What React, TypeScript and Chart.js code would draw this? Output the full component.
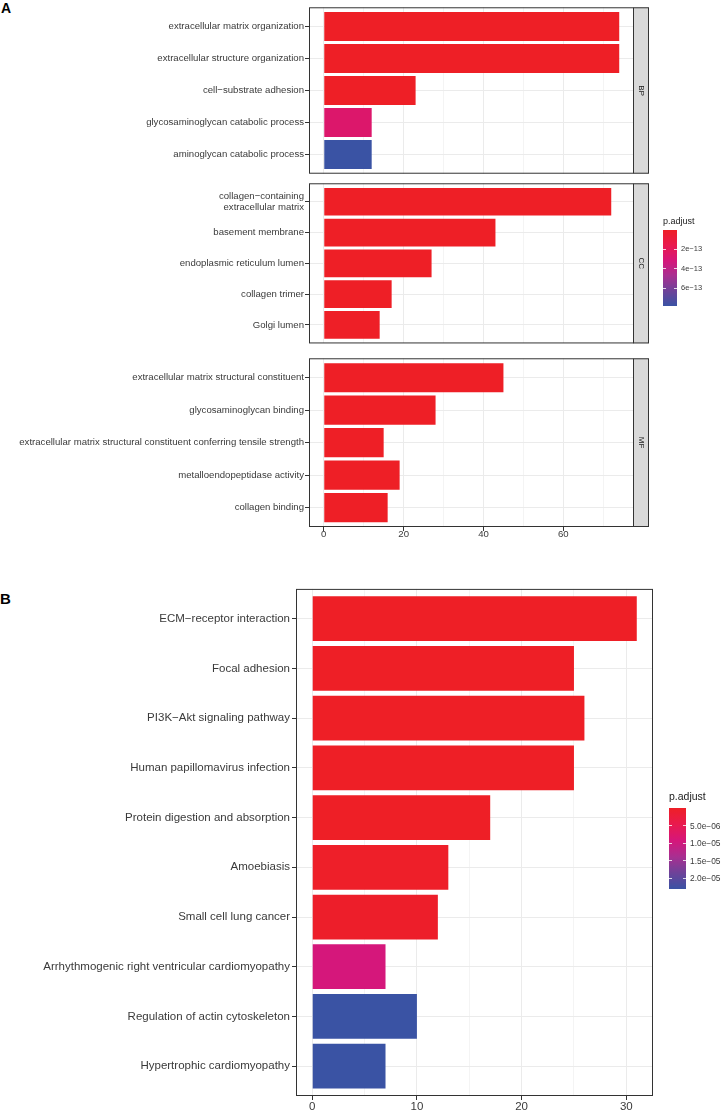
import React, { useEffect, useRef } from "react";
import { Chart, registerables } from "chart.js";

Chart.register(...registerables);

const FONT = '"Liberation Sans", Arial, Helvetica, sans-serif';

// ---------- Panel A (GO enrichment) ----------
const BP_TERMS: (string | string[])[] = [
  "extracellular matrix organization",
  "extracellular structure organization",
  "cell\u2212substrate adhesion",
  "glycosaminoglycan catabolic process",
  "aminoglycan catabolic process",
];
const BP_COUNTS = [74, 74, 23, 12, 12];
const BP_PADJ = [2.1e-31, 4.5e-31, 3.6e-17, 2.6e-13, 7.8e-13];

const CC_TERMS: (string | string[])[] = [
  ["collagen\u2212containing", "extracellular matrix"],
  "basement membrane",
  "endoplasmic reticulum lumen",
  "collagen trimer",
  "Golgi lumen",
];
const CC_COUNTS = [72, 43, 27, 17, 14];
const CC_PADJ = [1.5e-52, 3.2e-28, 4.1e-16, 6.0e-16, 2.2e-15];

const MF_TERMS: (string | string[])[] = [
  "extracellular matrix structural constituent",
  "glycosaminoglycan binding",
  "extracellular matrix structural constituent conferring tensile strength",
  "metalloendopeptidase activity",
  "collagen binding",
];
const MF_COUNTS = [45, 28, 15, 19, 16];
const MF_PADJ = [3.0e-40, 1.0e-18, 2.0e-17, 5.0e-16, 8.0e-16];

const A_MAJOR = [0, 20, 40, 60];
const A_MINOR = [10, 30, 50, 70];
const A_LEGEND_BREAKS = [2e-13, 4e-13, 6e-13];
const A_LEGEND_LABELS = ["2e\u221213", "4e\u221213", "6e\u221213"];

// ---------- Panel B (KEGG) ----------
const KEGG_TERMS: string[] = [
  "ECM\u2212receptor interaction",
  "Focal adhesion",
  "PI3K\u2212Akt signaling pathway",
  "Human papillomavirus infection",
  "Protein digestion and absorption",
  "Amoebiasis",
  "Small cell lung cancer",
  "Arrhythmogenic right ventricular cardiomyopathy",
  "Regulation of actin cytoskeleton",
  "Hypertrophic cardiomyopathy",
];
const KEGG_COUNTS = [31, 25, 26, 25, 17, 13, 12, 7, 10, 7];
const KEGG_PADJ = [3e-20, 1e-12, 4e-10, 2e-10, 1e-9, 3e-7, 5e-7, 9.3e-6, 2.3e-5, 2.3e-5];

const B_MAJOR = [0, 10, 20, 30];
const B_MINOR = [5, 15, 25];
const B_LEGEND_BREAKS = [5e-6, 1e-5, 1.5e-5, 2e-5];
const B_LEGEND_LABELS = ["5.0e\u221206", "1.0e\u221205", "1.5e\u221205", "2.0e\u221205"];

// red (low p.adjust) -> blue (high p.adjust)
const COLOR_STOPS: [number, string][] = [
  [0, "#EE1F26"],
  [0.2, "#E91A4E"],
  [0.4, "#D6167A"],
  [0.6, "#A92F91"],
  [0.8, "#6E4299"],
  [1, "#3A53A4"],
];

function hexToRgb(h: string): number[] {
  const v = parseInt(h.slice(1), 16);
  return [(v >> 16) & 255, (v >> 8) & 255, v & 255];
}

function colorFor(f: number): string {
  const t = Math.max(0, Math.min(1, f));
  for (let i = 1; i < COLOR_STOPS.length; i++) {
    const [f1, c1] = COLOR_STOPS[i];
    const [f0, c0] = COLOR_STOPS[i - 1];
    if (t <= f1) {
      const u = (t - f0) / (f1 - f0);
      const a = hexToRgb(c0);
      const b = hexToRgb(c1);
      const m = a.map((x, k) => Math.round(x + (b[k] - x) * u));
      return `rgb(${m[0]},${m[1]},${m[2]})`;
    }
  }
  return COLOR_STOPS[COLOR_STOPS.length - 1][1];
}

type PanelProps = {
  terms: (string | string[])[];
  counts: number[];
  padj: number[];
  pmax: number;
  xMin: number;
  xMax: number;
  major: number[];
  minor: number[];
  showX: boolean;
  strip?: string;
  left: number;
  right: number;
  top: number;
  bottom: number;
  fontSize: number;
  yLineHeight: number;
  yPad: number;
  xPad: number;
  xAxisH: number;
};

function Panel(p: PanelProps) {
  const ref = useRef<HTMLCanvasElement>(null);
  const padTop = 4;
  const padBottom = p.showX ? 0 : 4;
  const xH = p.showX ? p.xAxisH : 0;
  const canvasTop = p.top - padTop;
  const canvasH = padTop + (p.bottom - p.top) + xH + padBottom;

  useEffect(() => {
    const n = p.terms.length;
    const allTicks = [...p.major, ...p.minor].sort((a, b) => a - b);
    const isMajor = (v: number) => p.major.includes(v);
    const strip = p.strip;

    const framePlugin = {
      id: "frame",
      afterDatasetsDraw(chart: any) {
        const { ctx, chartArea: a } = chart;
        ctx.save();
        ctx.strokeStyle = "#333333";
        ctx.lineWidth = 1;
        ctx.strokeRect(a.left + 0.5, a.top + 0.5, a.right - a.left - 1, a.bottom - a.top - 1);
        if (strip) {
          const sx = a.right - 1;
          const sw = 16;
          ctx.fillStyle = "#D9D9D9";
          ctx.fillRect(sx, a.top, sw, a.bottom - a.top);
          ctx.strokeRect(sx + 0.5, a.top + 0.5, sw - 1, a.bottom - a.top - 1);
          ctx.translate(sx + sw / 2, (a.top + a.bottom) / 2);
          ctx.rotate(Math.PI / 2);
          ctx.fillStyle = "#1A1A1A";
          ctx.font = `8px ${FONT}`;
          ctx.textAlign = "center";
          ctx.textBaseline = "middle";
          ctx.fillText(strip, 0, 0);
        }
        ctx.restore();
      },
    };

    const chart = new Chart(ref.current as HTMLCanvasElement, {
      type: "bar",
      data: {
        datasets: [
          {
            data: p.counts.map((c, i) => ({ x: c, y: i + 1 })) as any,
            backgroundColor: p.padj.map((v) => colorFor(v / p.pmax)),
            borderWidth: 0,
            barPercentage: 0.9,
            categoryPercentage: 1,
          },
        ],
      },
      options: {
        indexAxis: "y",
        animation: false,
        responsive: false,
        devicePixelRatio: 1,
        layout: { padding: { top: padTop, bottom: padBottom, left: 0, right: 724 - p.right } },
        plugins: { legend: { display: false }, tooltip: { enabled: false } },
        scales: {
          x: {
            type: "linear",
            position: "bottom",
            min: p.xMin,
            max: p.xMax,
            offset: false,
            afterBuildTicks: (s: any) => {
              s.ticks = allTicks.map((v) => ({ value: v }));
            },
            afterFit: (s: any) => {
              s.height = xH;
            },
            border: { display: false },
            grid: {
              offset: false,
              color: (ctx: any) => (ctx.tick && isMajor(ctx.tick.value) ? "#EBEBEB" : "#F4F4F4"),
              lineWidth: 1,
              drawTicks: p.showX,
              tickLength: 4,
              tickWidth: 1,
              tickColor: (ctx: any) =>
                ctx.tick && isMajor(ctx.tick.value) ? "#333333" : "rgba(0,0,0,0)",
            },
            ticks: {
              display: p.showX,
              autoSkip: false,
              maxRotation: 0,
              padding: p.xPad,
              color: "#3A3A3A",
              font: { family: FONT, size: p.fontSize, lineHeight: 1.2 },
              callback: (v: any) => (isMajor(Number(v)) ? String(v) : ""),
            },
          },
          y: {
            type: "linear",
            reverse: true,
            min: 0.4,
            max: n + 0.6,
            offset: false,
            afterBuildTicks: (s: any) => {
              s.ticks = p.terms.map((_, i) => ({ value: i + 1 }));
            },
            afterFit: (s: any) => {
              s.width = p.left;
            },
            border: { display: false },
            grid: {
              offset: false,
              color: "#EBEBEB",
              lineWidth: 1,
              drawTicks: true,
              tickLength: 4,
              tickWidth: 1,
              tickColor: "#333333",
            },
            ticks: {
              autoSkip: false,
              padding: p.yPad,
              color: "#3A3A3A",
              font: { family: FONT, size: p.fontSize, lineHeight: p.yLineHeight },
              callback: (v: any) => p.terms[Math.round(Number(v)) - 1] as any,
            },
          },
        },
      } as any,
      plugins: [framePlugin],
    });
    return () => chart.destroy();
  }, []);

  return (
    <canvas
      ref={ref}
      width={724}
      height={canvasH}
      style={{ position: "absolute", left: 0, top: canvasTop, width: 724, height: canvasH, display: "block" }}
    />
  );
}

type LegendProps = {
  x: number;
  titleTop: number;
  titleSize: number;
  barTop: number;
  barH: number;
  barW: number;
  labelSize: number;
  pmax: number;
  breaks: number[];
  labels: string[];
};

function ColorLegend(l: LegendProps) {
  const grad = `linear-gradient(to bottom, ${COLOR_STOPS.map(([f, c]) => `${c} ${f * 100}%`).join(", ")})`;
  return (
    <>
      <div
        style={{
          position: "absolute",
          left: l.x,
          top: l.titleTop,
          fontSize: l.titleSize,
          lineHeight: 1,
          color: "#1A1A1A",
          whiteSpace: "nowrap",
        }}
      >
        p.adjust
      </div>
      <div
        style={{ position: "absolute", left: l.x, top: l.barTop, width: l.barW, height: l.barH, background: grad }}
      />
      {l.breaks.map((b, i) => {
        const y = l.barTop + (b / l.pmax) * l.barH;
        const tw = Math.round(l.barW / 5);
        return (
          <React.Fragment key={i}>
            <div style={{ position: "absolute", left: l.x, top: y - 0.5, width: tw, height: 1, background: "rgba(255,255,255,0.8)" }} />
            <div
              style={{ position: "absolute", left: l.x + l.barW - tw, top: y - 0.5, width: tw, height: 1, background: "rgba(255,255,255,0.8)" }}
            />
            <div
              style={{
                position: "absolute",
                left: l.x + l.barW + 4,
                top: y,
                transform: "translateY(-50%)",
                fontSize: l.labelSize,
                lineHeight: 1,
                color: "#3A3A3A",
                whiteSpace: "nowrap",
              }}
            >
              {l.labels[i]}
            </div>
          </React.Fragment>
        );
      })}
    </>
  );
}

export default function App() {
  const pmaxA = Math.max(...BP_PADJ, ...CC_PADJ, ...MF_PADJ);
  const pmaxB = Math.max(...KEGG_PADJ);
  const maxA = Math.max(...BP_COUNTS, ...CC_COUNTS, ...MF_COUNTS);
  const maxB = Math.max(...KEGG_COUNTS);
  const aX = { xMin: -0.05 * maxA, xMax: maxA * 1.05 };
  const bX = { xMin: -0.05 * maxB, xMax: maxB * 1.05 };
  const aCommon = {
    ...aX,
    pmax: pmaxA,
    major: A_MAJOR,
    minor: A_MINOR,
    left: 309,
    right: 634,
    fontSize: 9.6,
    yLineHeight: 1.1,
    yPad: 1,
    xPad: -2,
    xAxisH: 20,
  };

  return (
    <div
      style={{
        position: "absolute",
        left: 0,
        top: 0,
        width: 724,
        height: 1112,
        background: "#FFFFFF",
        overflow: "hidden",
        fontFamily: FONT,
      }}
    >
      <div style={{ position: "absolute", left: 1, top: 1, fontSize: 14, fontWeight: "bold", lineHeight: 1, color: "#000" }}>A</div>
      <Panel {...aCommon} terms={BP_TERMS} counts={BP_COUNTS} padj={BP_PADJ} showX={false} strip="BP" top={5} bottom={176} />
      <Panel {...aCommon} terms={CC_TERMS} counts={CC_COUNTS} padj={CC_PADJ} showX={false} strip="CC" top={181} bottom={351} />
      <Panel {...aCommon} terms={MF_TERMS} counts={MF_COUNTS} padj={MF_PADJ} showX={true} strip="MF" top={356} bottom={527} />
      <ColorLegend
        x={663}
        titleTop={217}
        titleSize={9}
        barTop={230}
        barH={76}
        barW={14}
        labelSize={7.5}
        pmax={pmaxA}
        breaks={A_LEGEND_BREAKS}
        labels={A_LEGEND_LABELS}
      />

      <div style={{ position: "absolute", left: 0, top: 591, fontSize: 15, fontWeight: "bold", lineHeight: 1, color: "#000" }}>B</div>
      <Panel
        {...bX}
        terms={KEGG_TERMS}
        counts={KEGG_COUNTS}
        padj={KEGG_PADJ}
        pmax={pmaxB}
        major={B_MAJOR}
        minor={B_MINOR}
        showX={true}
        left={296}
        right={653}
        top={584}
        bottom={1096}
        fontSize={11.5}
        yLineHeight={1.2}
        yPad={2}
        xPad={0}
        xAxisH={16}
      />
      <ColorLegend
        x={669}
        titleTop={791}
        titleSize={10.5}
        barTop={808}
        barH={81}
        barW={17}
        labelSize={8.4}
        pmax={pmaxB}
        breaks={B_LEGEND_BREAKS}
        labels={B_LEGEND_LABELS}
      />
    </div>
  );
}
